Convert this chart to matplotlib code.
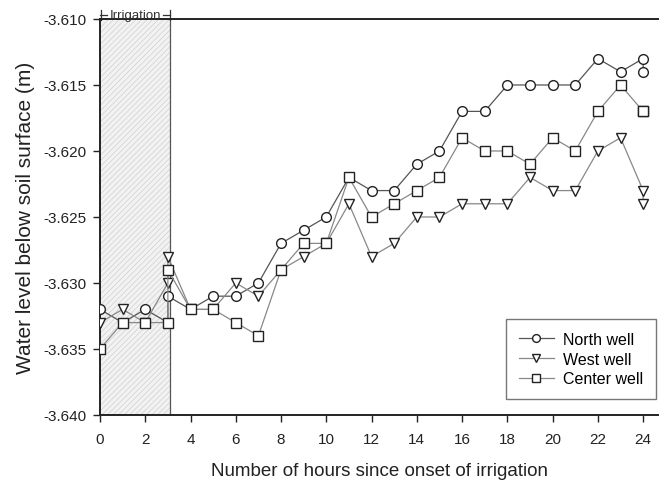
import matplotlib.pyplot as plt

plt.rcParams['font.family'] = ['Liberation Sans', 'DejaVu Sans']
plt.rcParams['hatch.linewidth'] = 0.4
plt.rcParams['hatch.color'] = '#c8c8c8'

# hours since onset of irrigation (3 and 24 appear twice)
hours = [0, 1, 2, 3, 3, 4, 5, 6, 7, 8, 9, 10, 11, 12, 13, 14, 15, 16,
         17, 18, 19, 20, 21, 22, 23, 24, 24]

north = [-3.632, -3.633, -3.632, -3.633, -3.631, -3.632, -3.631, -3.631, -3.630,
         -3.627, -3.626, -3.625, -3.622, -3.623, -3.623, -3.621, -3.620, -3.617,
         -3.617, -3.615, -3.615, -3.615, -3.615, -3.613, -3.614, -3.613, -3.614]
west = [-3.633, -3.632, -3.633, -3.630, -3.628, -3.632, -3.632, -3.630, -3.631,
        -3.629, -3.628, -3.627, -3.624, -3.628, -3.627, -3.625, -3.625, -3.624,
        -3.624, -3.624, -3.622, -3.623, -3.623, -3.620, -3.619, -3.623, -3.624]
center = [-3.635, -3.633, -3.633, -3.633, -3.629, -3.632, -3.632, -3.633, -3.634,
          -3.629, -3.627, -3.627, -3.622, -3.625, -3.624, -3.623, -3.622, -3.619,
          -3.620, -3.620, -3.621, -3.619, -3.620, -3.617, -3.615, -3.617, -3.617]

irrigation_end = 3.1

fig = plt.figure(figsize=(6.59, 4.85), dpi=100)
ax = fig.add_axes([0.1517, 0.1423, 0.8483, 0.8165])

# shaded irrigation period
ax.axvspan(0, irrigation_end, facecolor='#f2f2f2', hatch='//////', edgecolor='#c8c8c8', lw=0, zorder=0)
ax.axvline(irrigation_end, color='#555555', lw=0.9, zorder=1)

ax.plot(hours, north, color='#555555', lw=0.9, marker='o', ms=7, mfc='white', mec='#222222', mew=1.0,
        label='North well', zorder=3)
ax.plot(hours, west, color='#888888', lw=0.9, marker='v', ms=7.5, mfc='white', mec='#222222', mew=1.0,
        label='West well', zorder=3)
ax.plot(hours, center, color='#888888', lw=0.9, marker='s', ms=7, mfc='white', mec='#222222', mew=1.0,
        label='Center well', zorder=4)

ax.set_xlim(0, 24.7)
ax.set_ylim(-3.640, -3.610)
ax.set_xticks(range(0, 25, 2))
ax.set_yticks([-3.640, -3.635, -3.630, -3.625, -3.620, -3.615, -3.610])
ax.set_yticklabels(['-3.640', '-3.635', '-3.630', '-3.625', '-3.620', '-3.615', '-3.610'])
ax.tick_params(direction='out', length=5, width=1, labelsize=11, colors='#222222')
ax.tick_params(axis='x', pad=7)
ax.tick_params(axis='y', pad=5)

for s in ['left', 'bottom', 'top']:
    ax.spines[s].set_linewidth(1.4)
    ax.spines[s].set_color('#222222')
ax.spines['right'].set_visible(False)

ax.set_xlabel('Number of hours since onset of irrigation', fontsize=13.5, labelpad=12, color='#222222')
ax.set_ylabel('Water level below soil surface (m)', fontsize=15, labelpad=6, color='#222222')

# "Irrigation" marker above the top spine
y_lab = -3.6097
ax.text(irrigation_end / 2, y_lab, 'Irrigation', ha='center', va='center', fontsize=9.5,
        color='#333333', clip_on=False)
for x0, x1 in [(0, 0.3), (irrigation_end - 0.3, irrigation_end)]:
    ax.plot([x0, x1], [y_lab, y_lab], color='#333333', lw=0.9, clip_on=False)
for xb in [0.05, irrigation_end]:
    ax.plot([xb, xb], [y_lab - 0.00035, y_lab + 0.00035], color='#333333', lw=0.9, clip_on=False)

leg = ax.legend(loc='lower right', bbox_to_anchor=(0.995, 0.04), fontsize=11.5, frameon=True,
                fancybox=False, edgecolor='#555555', handlelength=2.2, borderpad=0.8,
                labelspacing=0.3, handletextpad=0.6, markerscale=0.8, borderaxespad=0)
leg.get_frame().set_linewidth(1.0)

plt.savefig('out.png', dpi=100)
